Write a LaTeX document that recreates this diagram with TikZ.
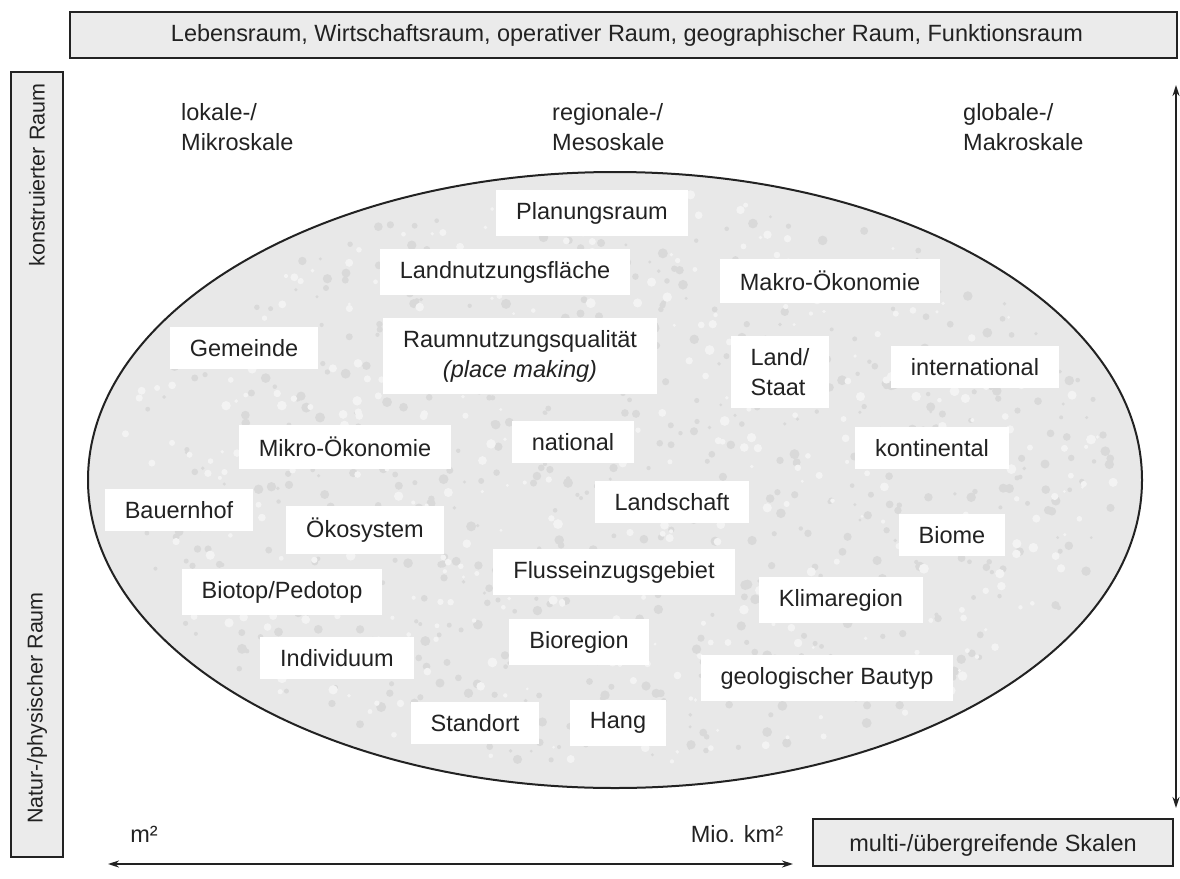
\documentclass[tikz,border=0pt]{standalone}
\usepackage{fontspec}
\setmainfont{Liberation Sans}
\usetikzlibrary{arrows.meta,shapes.geometric}
\definecolor{ink}{HTML}{222222}
\definecolor{boxfill}{HTML}{EBEBEB}
\definecolor{ellfill}{HTML}{E8E8E8}
\definecolor{speck}{HTML}{D9D9D9}
\definecolor{lightspeck}{HTML}{F3F3F3}
\begin{document}
\begin{tikzpicture}[x=1pt,y=-1pt,
  lbl/.style={fill=white, text=ink, font=\fontsize{23.5}{30}\selectfont, inner xsep=20pt, inner ysep=12pt, align=center},
  plain/.style={text=ink, font=\fontsize{23.5}{30}\selectfont, inner sep=0pt, align=left},
  rot/.style={text=ink, font=\fontsize{21.5}{25}\selectfont, inner sep=0pt, rotate=90},
  frame/.style={draw=ink, line width=2pt, fill=boxfill, inner sep=0pt},
  dbl/.style={draw=ink, line width=1.8pt, {Stealth[length=11pt,width=7pt]}-{Stealth[length=11pt,width=7pt]}}]
\useasboundingbox (0,0) rectangle (1180,878);
% top box
\node[frame, minimum width=1107pt, minimum height=46pt] (topbox) at (623.5,35) {};
\node[plain] (toptext) at (627,35) {\resizebox{912pt}{\height}{Lebensraum, Wirtschaftsraum, operativer Raum, geographischer Raum, Funktionsraum}};
% left box
\node[frame, minimum width=52pt, minimum height=785pt] (leftbox) at (37,464.5) {};
\node[rot] (konst) at (37,175) {konstruierter Raum};
\node[rot] (natur) at (37,708) {Natur-/physischer Raum};
% scale headings
\node[plain, anchor=west] (lokal) at (181,127) {lokale-/\\Mikroskale};
\node[plain, anchor=west] (regio) at (552,127) {regionale-/\\Mesoskale};
\node[plain, anchor=west] (globa) at (963,127) {globale-/\\Makroskale};
% ellipse (filled and outlined), then a light mottled texture inside it
\node[ellipse, draw=ink, line width=2pt, fill=ellfill, minimum width=1054pt, minimum height=616pt, inner sep=0pt] (oval) at (615,480) {};
\pgfmathsetseed{11}
\foreach \k in {1,...,700}{
  \pgfmathsetmacro\myang{360*rnd}
  \pgfmathsetmacro\mydist{0.96*sqrt(rnd)}
  \pgfmathsetmacro\myrad{1.5+3.5*rnd}
  \fill[speck] ({615+520*\mydist*cos(\myang)},{480+301*\mydist*sin(\myang)}) circle [radius=\myrad pt];
}
\foreach \k in {1,...,450}{
  \pgfmathsetmacro\myang{360*rnd}
  \pgfmathsetmacro\mydist{0.96*sqrt(rnd)}
  \pgfmathsetmacro\myrad{1.5+3.5*rnd}
  \fill[lightspeck] ({615+520*\mydist*cos(\myang)},{480+301*\mydist*sin(\myang)}) circle [radius=\myrad pt];
}
% labels
\node[lbl] (planung) at (592,213) {Planungsraum};
\node[lbl] (landnutz) at (505,272) {Landnutzungsfläche};
\node[lbl] (makro) at (830,281) {Makro-Ökonomie};
\node[lbl] (gemeinde) at (244,348) {Gemeinde};
\node[lbl] (raumnutz) at (520,356) {Raumnutzungsqualität\\\textit{(place making)}};
\node[lbl, align=left] (staat) at (780,372) {Land/\\Staat};
\node[lbl] (internat) at (975,367) {international};
\node[lbl] (mikro) at (345,447) {Mikro-Ökonomie};
\node[lbl] (national) at (573,442) {national};
\node[lbl] (kontinent) at (932,448) {kontinental};
\node[lbl] (bauernhof) at (179,510) {Bauernhof};
\node[lbl] (oekosys) at (365,530) {Ökosystem};
\node[lbl] (landschaft) at (672,502) {Landschaft};
\node[lbl] (biome) at (952,535) {Biome};
\node[lbl] (fluss) at (614,572) {Flusseinzugsgebiet};
\node[lbl] (biotop) at (282,592) {Biotop/Pedotop};
\node[lbl] (klima) at (841,600) {Klimaregion};
\node[lbl] (indiv) at (337,658) {Individuum};
\node[lbl] (bioreg) at (579,642) {Bioregion};
\node[lbl] (geolog) at (827,678) {geologischer Bautyp};
\node[lbl] (standort) at (475,723) {Standort};
\node[lbl] (hang) at (618,723) {Hang};
% vertical arrow
\coordinate (vt) at (1176,85);
\coordinate (vb) at (1176,808);
\draw[dbl] (vt) -- (vb);
% bottom
\node[plain] (msq) at (144,834) {m²};
\node[plain] (miokm) at (737,834) {Mio. km²};
\coordinate (hl) at (108,864);
\coordinate (hr) at (793,864);
\draw[dbl] (hl) -- (hr);
\node[frame, minimum width=360pt, minimum height=47pt] (multibox) at (993,842.5) {};
\node[plain] (multitext) at (993,845) {multi-/übergreifende Skalen};
\end{tikzpicture}
\end{document}
